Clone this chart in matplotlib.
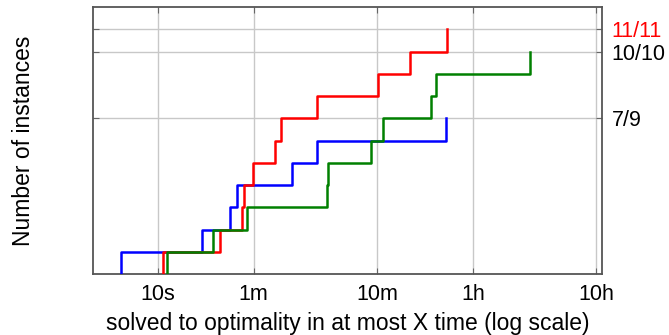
import matplotlib
matplotlib.use('Agg')
import matplotlib.pyplot as plt
import matplotlib.ticker as mticker

plt.rcParams['font.family'] = ['Liberation Sans', 'DejaVu Sans']

## solve times in seconds, one entry per solved instance
red_times = [11.1, 31.9, 48.4, 50.5, 59.4, 89.9, 100.5, 195.4, 615, 1109, 2223]
green_times = [12.0, 28.2, 53.1, 238, 240, 534, 665, 1632, 1790, 10360]
blue_times = [5.02, 23.1, 38.9, 44.1, 124, 197.6, 2169]

x_ticks = [10, 60, 600, 3600, 36000]
x_labels = ['10s', '1m', '10m', '1h', '10h']
y_ticks = [7, 10, 11]
y_labels = ['7/9', '10/10', '11/11']
y_label_colors = ['black', 'black', 'red']

fig = plt.figure(figsize=(6.69, 3.35), dpi=100)
ax = fig.add_axes([0.139, 0.182, 0.761, 0.797])

def step_curve(times, color):
    xs = [times[0]] + times
    ys = list(range(len(times) + 1))
    ax.step(xs, ys, where='post', color=color, lw=1.8, zorder=3)

step_curve(blue_times, '#0000ff')
step_curve(red_times, '#ff0000')
step_curve(green_times, '#008000')

ax.set_xscale('log')
ax.set_xlim(3, 40000)
ax.set_ylim(0, 12)
ax.set_xticks(x_ticks)
ax.set_xticklabels(x_labels)
ax.xaxis.set_minor_locator(mticker.NullLocator())
ax.set_yticks(y_ticks)
ax.set_yticklabels(y_labels)

ax.grid(True, color='#c8c8c8', lw=1.0, zorder=0)
ax.tick_params(axis='x', direction='in', top=True, bottom=True, length=4,
               color='#666666', labelsize=15.5, pad=7)
ax.tick_params(axis='y', direction='in', left=True, right=True, length=4,
               color='#666666', labelleft=False, labelright=True,
               labelsize=15.5, pad=7)
## colour the right hand labels
for tick, c in zip(ax.yaxis.get_major_ticks(), y_label_colors):
    tick.label2.set_color(c)
for sp in ax.spines.values():
    sp.set_color('#555555')
    sp.set_linewidth(1.3)

ax.set_xlabel('solved to optimality in at most X time (log scale)', fontsize=16.5, labelpad=5)
ax.set_ylabel('Number of instances', fontsize=16.5, labelpad=42)

fig.savefig('out.png', dpi=100)
